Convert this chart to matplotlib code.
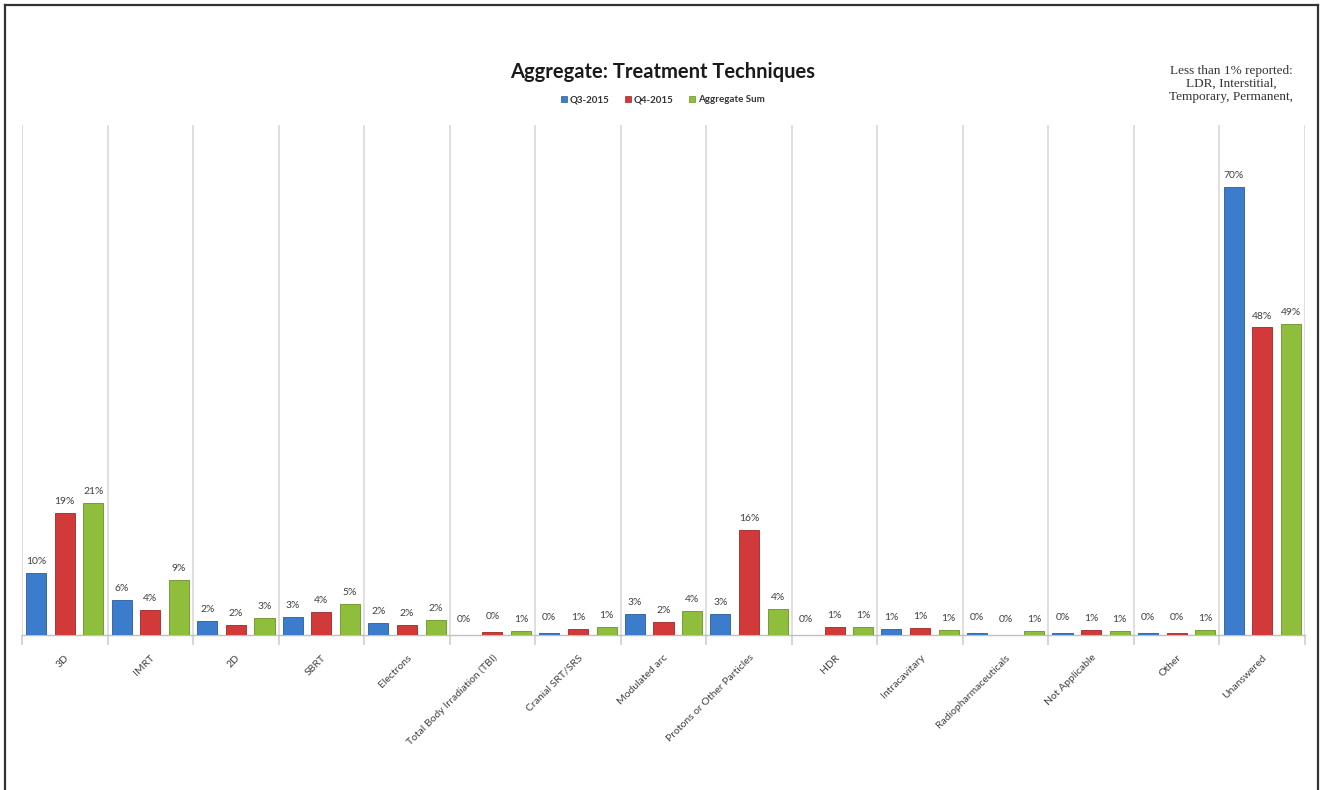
import matplotlib
matplotlib.use("Agg")
import matplotlib.pyplot as plt
from matplotlib.lines import Line2D
from matplotlib.patches import Patch
import numpy as np

categories = ["3D", "IMRT", "2D", "SBRT", "Electrons", "Total Body Irradiation (TBI)",
              "Cranial SRT/SRS", "Modulated arc", "Protons or Other Particles", "HDR",
              "Intracavitary", "Radiopharmaceuticals", "Not Applicable", "Other", "Unanswered"]
q3_2015 = [9.7, 5.5, 2.2, 2.8, 1.9, 0.0, 0.35, 3.3, 3.3, 0.0, 1.0, 0.3, 0.3, 0.3, 70.0]
q4_2015 = [19.0, 3.9, 1.6, 3.6, 1.6, 0.4, 0.9, 2.0, 16.4, 1.2, 1.1, 0.0, 0.8, 0.3, 48.0]
agg_sum = [20.6, 8.6, 2.7, 4.8, 2.3, 0.7, 1.2, 3.8, 4.1, 1.3, 0.8, 0.6, 0.6, 0.8, 48.6]
series_names = ["Q3-2015", "Q4-2015", "Aggregate Sum"]
title = "Aggregate: Treatment Techniques"
note = "Less than 1% reported:\nLDR, Interstitial,\nTemporary, Permanent,"

colors = ["#3B7DCC", "#D23A3A", "#8EBE3C"]
edges = ["#2A5C9A", "#9E2828", "#6A9028"]

W, H = 1323, 790
fig = plt.figure(figsize=(W / 100, H / 100), dpi=100)
ax = fig.add_axes([22 / W, 1 - 635 / H, (1305 - 22) / W, (635 - 125) / H])

x = np.arange(len(categories))
width = 0.235
offs = [-0.335, 0.0, 0.335]
lab_font = ["Lato", "DejaVu Sans"]
for vals, off, c, ec, name in zip([q3_2015, q4_2015, agg_sum], offs, colors, edges, series_names):
    bars = ax.bar(x + off, vals, width, color=c, edgecolor=ec, linewidth=0.6, label=name, zorder=3)
    for b, v in zip(bars, vals):
        ax.annotate(f"{v:.0f}%", (b.get_x() + b.get_width() / 2, v),
                    xytext=(0, 5 if v > 0.5 else 8), textcoords="offset points",
                    ha="center", va="bottom", fontsize=7.5, color="#404040", family=lab_font)

ax.set_xlim(-0.5, len(categories) - 0.5)
ax.set_ylim(0, 79.6)
ax.set_yticks([])
ax.set_xticks(x)
ax.set_xticklabels(categories, rotation=45, ha="right", rotation_mode="anchor",
                   fontsize=7.5, color="#404040", family=lab_font)
ax.tick_params(axis="x", which="major", length=0, pad=13)
ax.set_xticks(np.arange(-0.5, len(categories), 1.0), minor=True)
ax.tick_params(axis="x", which="minor", length=7, color="#D0D0D0", width=1.2)
ax.grid(axis="x", which="minor", color="#D9D9D9", linewidth=1.2, zorder=0)
for s in ["top", "left", "right"]:
    ax.spines[s].set_visible(False)
ax.spines["bottom"].set_color("#BFBFBF")
ax.spines["bottom"].set_linewidth(1.0)

fig.text(663 / W, 1 - 72 / H, title, ha="center", va="center", fontsize=14.5,
         fontweight="bold", color="#1A1A1A", family=lab_font)
handles = [Patch(facecolor=c, edgecolor=ec, linewidth=0.5) for c, ec in zip(colors, edges)]
fig.legend(handles, series_names, loc="center", bbox_to_anchor=(663 / W, 1 - 100 / H),
           ncol=3, frameon=False, prop={"family": lab_font, "size": 7, "weight": "bold"},
           handlelength=0.6, handleheight=0.6, handletextpad=0.3, columnspacing=1.6,
           labelcolor="#333333")
fig.text(1231 / W, 1 - 84 / H, note, ha="center", va="center", fontsize=9.5,
         family=["Liberation Serif", "DejaVu Serif"], color="#333333", linespacing=1.1)

frame_kw = dict(transform=fig.transFigure, color="#333333", linewidth=1.6)
fig.add_artist(Line2D([5 / W, 5 / W], [0, 1 - 5 / H], **frame_kw))
fig.add_artist(Line2D([5 / W, 1318 / W], [1 - 5 / H, 1 - 5 / H], **frame_kw))
fig.add_artist(Line2D([1318 / W, 1318 / W], [0, 1 - 5 / H], **frame_kw))

fig.savefig("out.png", dpi=100, facecolor="white")
